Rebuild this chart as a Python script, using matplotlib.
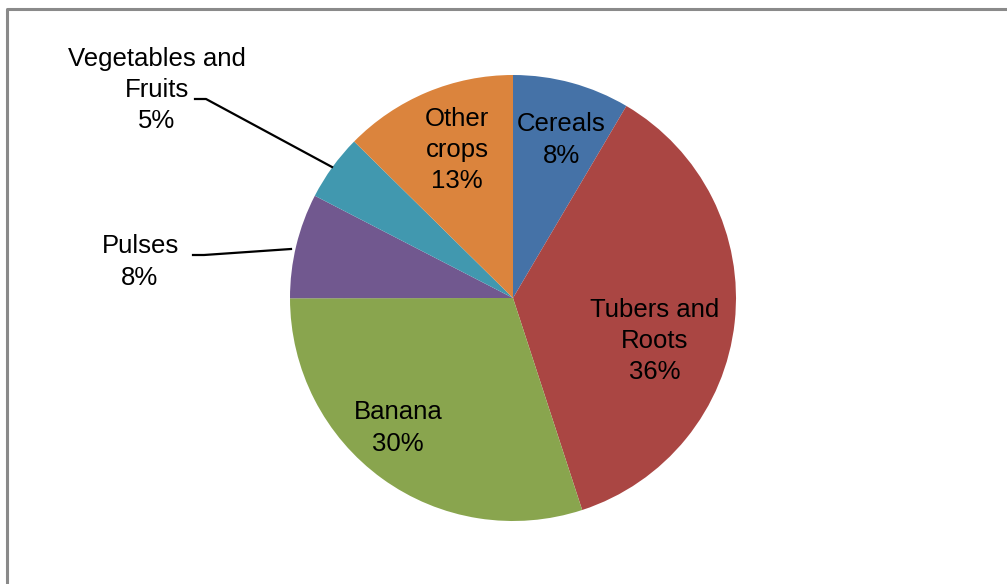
import matplotlib
matplotlib.use("Agg")
import matplotlib.pyplot as plt
from matplotlib.lines import Line2D

plt.rcParams['font.family'] = ['Liberation Sans', 'DejaVu Sans']

crops = ['Cereals', 'Tubers and\nRoots', 'Banana', 'Pulses',
         'Vegetables and\nFruits', 'Other\ncrops']
shares = [8.49, 36.49, 30.0, 7.6, 4.8, 12.62]
colors = ['#4572A7', '#AA4643', '#89A54E', '#71588F', '#4198AF', '#DB843D']

W, H = 1007, 584
fig = plt.figure(figsize=(W / 100, H / 100), dpi=100)
ax = fig.add_axes([0, 0, 1, 1])

cx, cy, r = 513, H - 298, 223
ax.pie(shares, colors=colors, startangle=90, counterclock=False,
       center=(cx, cy), radius=r, frame=False,
       wedgeprops=dict(linewidth=0))
ax.set_xlim(0, W)
ax.set_ylim(0, H)
ax.set_aspect('equal')
ax.axis('off')

# label positions in pixel coords (from top-left)
label_pos = [(561, 140), (655, 341), (398, 428), (140, 262), (157, 90), (457, 150)]
for name, val, (lx, ly) in zip(crops, shares, label_pos):
    ax.text(lx, H - ly, f"{name}\n{val:.0f}%", ha='center', va='center',
            fontsize=18.5, linespacing=1.38, color='black')

# leader lines for outside labels
ax.add_line(Line2D([195, 206, 332], [H - 99, H - 99, H - 167], color='black', lw=1.6))
ax.add_line(Line2D([193, 204, 291], [H - 255, H - 255, H - 249], color='black', lw=1.6))

# chart border
ax.add_line(Line2D([7, 7, W], [0, H - 9, H - 9], color='#8a8a8a', lw=2.2))

fig.savefig('out.png', dpi=100)
